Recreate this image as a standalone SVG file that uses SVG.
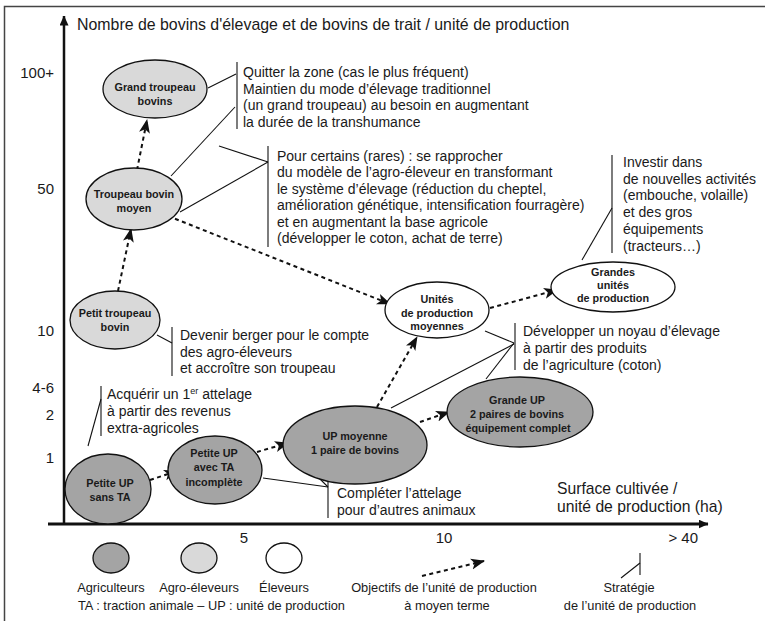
<svg xmlns="http://www.w3.org/2000/svg" width="765" height="621" viewBox="0 0 765 621">
<defs>
<marker id="ah" markerUnits="userSpaceOnUse" markerWidth="14" markerHeight="12" viewBox="0 0 14 12" refX="13" refY="6" orient="auto"><path d="M0,0.5 L14,6 L0,11.5 L3.5,6 z" fill="#111"/></marker>
<marker id="axh" markerUnits="userSpaceOnUse" markerWidth="10" markerHeight="9" viewBox="0 0 10 9" refX="9.5" refY="4.5" orient="auto"><path d="M0,0 L10,4.5 L0,9 z" fill="#111"/></marker>
<style>
text{font-family:"Liberation Sans",Arial,Helvetica,sans-serif;fill:#1a1a1a}
.t{font-size:14px}
.n{font-size:10.8px;font-weight:bold;text-anchor:middle}
.ax{font-size:15px}
.axr{font-size:15px;text-anchor:end}
.lg{font-size:12.8px}
.lgc{font-size:12.8px;text-anchor:middle}
.dk{fill:#a4a4a4;stroke:#111;stroke-width:1.3}
.lt{fill:#d9d9d9;stroke:#111;stroke-width:1.3}
.wh{fill:#fff;stroke:#111;stroke-width:1.3}
.dash{fill:none;stroke:#111;stroke-width:2;stroke-dasharray:4 3.5;marker-end:url(#ah)}
.st{fill:none;stroke:#111;stroke-width:1.1}
.axis{fill:none;stroke:#111;marker-end:url(#axh)}
</style>
</defs>
<rect width="765" height="621" fill="#fff"/>
<path d="M4.5,640 V6.5 H770" fill="none" stroke="#444" stroke-width="1.5"/>

<g id="axes">
<line class="axis" x1="64" y1="525" x2="64" y2="16" stroke-width="2.5"/>
<line class="axis" x1="48" y1="524" x2="708" y2="524" stroke-width="3"/>
<text class="ax" x="77" y="30" style="font-size:15.9px">Nombre de bovins d'élevage et de bovins de trait / unité de production</text>
<text class="axr" x="54" y="78">100+</text>
<text class="axr" x="54" y="194">50</text>
<text class="axr" x="54" y="336">10</text>
<text class="axr" x="54" y="393">4-6</text>
<text class="axr" x="54" y="420">2</text>
<text class="axr" x="54" y="463">1</text>
<text class="ax" x="244" y="543" text-anchor="middle">5</text>
<text class="ax" x="444" y="543" text-anchor="middle">10</text>
<text class="axr" x="698" y="543">&gt; 40</text>
<text class="ax" x="557" y="494" style="font-size:15.7px">Surface cultivée /</text>
<text class="ax" x="557" y="512" style="font-size:15.7px">unité de production (ha)</text>
</g>

<g id="connectors">
<line class="dash" x1="137" y1="170" x2="147" y2="120"/>
<line class="dash" x1="118" y1="291" x2="131" y2="229"/>
<line class="dash" x1="168" y1="216" x2="390" y2="304"/>
<line class="dash" x1="150" y1="480" x2="177" y2="471"/>
<line class="dash" x1="257" y1="452" x2="288" y2="443"/>
<line class="dash" x1="377" y1="407" x2="417" y2="337"/>
<line class="dash" x1="420" y1="422" x2="449" y2="412"/>
<line class="dash" x1="490" y1="308" x2="557" y2="290"/>
</g>

<g id="strategies">
<line class="st" x1="237" y1="62" x2="237" y2="129"/>
<line class="st" x1="208" y1="88" x2="236" y2="74"/>
<line class="st" x1="171" y1="176" x2="235" y2="107"/>
<line class="st" x1="268" y1="146" x2="268" y2="247"/>
<line class="st" x1="219" y1="146" x2="268" y2="162"/>
<line class="st" x1="180" y1="212" x2="268" y2="162"/>
<line class="st" x1="612" y1="155" x2="612" y2="253"/>
<line class="st" x1="582" y1="260" x2="612" y2="208"/>
<line class="st" x1="515" y1="323" x2="515" y2="370"/>
<line class="st" x1="485" y1="331" x2="514" y2="343"/>
<line class="st" x1="486" y1="379" x2="514" y2="343"/>
<line class="st" x1="391" y1="408" x2="514" y2="344"/>
<line class="st" x1="172" y1="327" x2="172" y2="376"/>
<line class="st" x1="157" y1="335" x2="172" y2="343"/>
<line class="st" x1="101" y1="386" x2="101" y2="436"/>
<line class="st" x1="88" y1="446" x2="101" y2="399"/>
<line class="st" x1="328" y1="477" x2="328" y2="518"/>
<line class="st" x1="263" y1="478" x2="328" y2="487"/>
<line class="st" x1="318" y1="477" x2="328" y2="487"/>
</g>

<g id="strategy-texts">
<text class="t" x="243"><tspan x="243" y="77">Quitter la zone (cas le plus fréquent)</tspan><tspan x="243" y="94">Maintien du mode d’élevage traditionnel</tspan><tspan x="243" y="110">(un grand troupeau) au besoin en augmentant</tspan><tspan x="243" y="127">la durée de la transhumance</tspan></text>
<text class="t"><tspan x="277" y="161">Pour certains (rares) : se rapprocher</tspan><tspan x="277" y="177">du modèle de l’agro-éleveur en transformant</tspan><tspan x="277" y="194">le système d’élevage (réduction du cheptel,</tspan><tspan x="277" y="210">amélioration génétique, intensification fourragère)</tspan><tspan x="277" y="227">et en augmentant la base agricole</tspan><tspan x="277" y="243">(développer le coton, achat de terre)</tspan></text>
<text class="t"><tspan x="623" y="167">Investir dans</tspan><tspan x="623" y="183.5">de nouvelles activités</tspan><tspan x="623" y="200">(embouche, volaille)</tspan><tspan x="623" y="217">et des gros</tspan><tspan x="623" y="233.5">équipements</tspan><tspan x="623" y="250.5">(tracteurs…)</tspan></text>
<text class="t"><tspan x="523" y="336">Développer un noyau d’élevage</tspan><tspan x="523" y="353">à partir des produits</tspan><tspan x="523" y="370">de l’agriculture (coton)</tspan></text>
<text class="t"><tspan x="180" y="340">Devenir berger pour le compte</tspan><tspan x="180" y="356.5">des agro-éleveurs</tspan><tspan x="180" y="373">et accroître son troupeau</tspan></text>
<text class="t"><tspan x="107" y="399">Acquérir un 1</tspan><tspan font-size="9" dy="-5">er</tspan><tspan dy="5"> attelage</tspan><tspan x="107" y="416">à partir des revenus</tspan><tspan x="107" y="433">extra-agricoles</tspan></text>
<text class="t"><tspan x="337" y="498">Compléter l’attelage</tspan><tspan x="337" y="515">pour d’autres animaux</tspan></text>
</g>

<g id="node-grand-troupeau">
<ellipse class="lt" cx="155" cy="89" rx="52" ry="29"/>
<text class="n" x="155" y="91">Grand troupeau</text>
<text class="n" x="155" y="105">bovins</text>
</g>
<g id="node-troupeau-moyen">
<ellipse class="lt" cx="134" cy="199" rx="48" ry="31"/>
<text class="n" x="134" y="198">Troupeau bovin</text>
<text class="n" x="134" y="212">moyen</text>
</g>
<g id="node-petit-troupeau">
<ellipse class="lt" cx="115" cy="320" rx="45" ry="29"/>
<text class="n" x="115" y="317">Petit troupeau</text>
<text class="n" x="115" y="331">bovin</text>
</g>
<g id="node-petite-up-sans-ta">
<ellipse class="dk" cx="108" cy="489" rx="43" ry="35"/>
<text class="n" x="110" y="487">Petite UP</text>
<text class="n" x="110" y="501">sans TA</text>
</g>
<g id="node-petite-up-avec-ta">
<ellipse class="dk" cx="215" cy="470" rx="47" ry="34"/>
<text class="n" x="214" y="457">Petite UP</text>
<text class="n" x="214" y="471">avec TA</text>
<text class="n" x="214" y="486">incomplète</text>
</g>
<g id="node-up-moyenne">
<ellipse class="dk" cx="355" cy="445" rx="72" ry="39"/>
<text class="n" x="355" y="440">UP moyenne</text>
<text class="n" x="355" y="454">1 paire de bovins</text>
</g>
<g id="node-grande-up">
<ellipse class="dk" cx="520" cy="412" rx="73" ry="35"/>
<text class="n" x="517" y="404">Grande UP</text>
<text class="n" x="517" y="418">2 paires de bovins</text>
<text class="n" x="518" y="432">équipement complet</text>
</g>
<g id="node-unites-moyennes">
<ellipse class="wh" cx="437" cy="310" rx="52" ry="28"/>
<text class="n" x="437" y="303">Unités</text>
<text class="n" x="437" y="317">de production</text>
<text class="n" x="437" y="330">moyennes</text>
</g>
<g id="node-grandes-unites">
<ellipse class="wh" cx="613" cy="287" rx="62" ry="25"/>
<text class="n" x="613" y="276">Grandes</text>
<text class="n" x="613" y="289">unités</text>
<text class="n" x="613" y="302">de production</text>
</g>

<g id="legend">
<ellipse class="dk" cx="111" cy="558" rx="18" ry="15"/>
<ellipse class="lt" cx="199" cy="558" rx="18" ry="15"/>
<ellipse class="wh" cx="284" cy="558" rx="18" ry="15"/>
<text class="lgc" x="111" y="592">Agriculteurs</text>
<text class="lgc" x="199" y="592">Agro-éleveurs</text>
<text class="lgc" x="284" y="592">Éleveurs</text>
<text class="lg" x="78" y="610">TA : traction animale – UP : unité de production</text>
<line class="dash" x1="422" y1="576" x2="484" y2="561"/>
<text class="lgc" x="444" y="592">Objectifs de l’unité de production</text>
<text class="lgc" x="447" y="610">à moyen terme</text>
<line class="st" x1="640" y1="553" x2="640" y2="575"/>
<line class="st" x1="621" y1="578" x2="640" y2="563"/>
<text class="lgc" x="629" y="592">Stratégie</text>
<text class="lgc" x="630" y="610">de l’unité de production</text>
</g>
</svg>
